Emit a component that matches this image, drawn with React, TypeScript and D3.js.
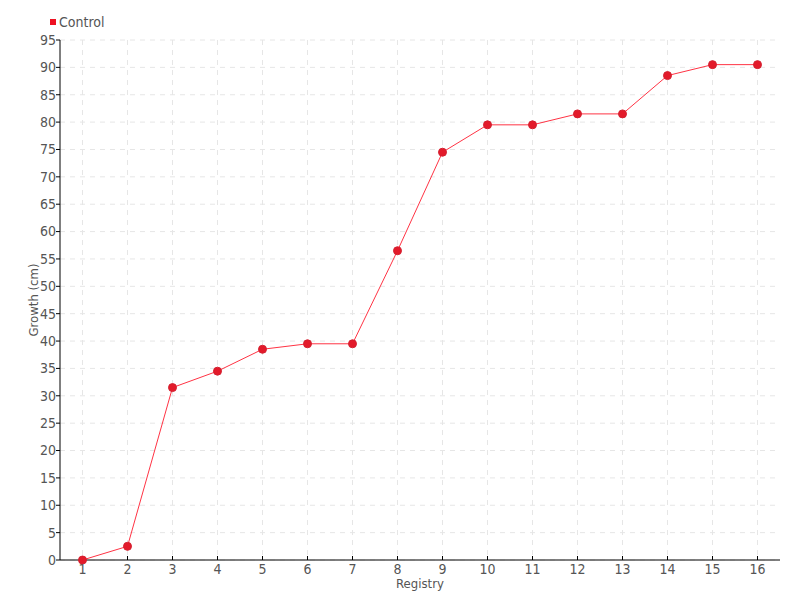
import React from 'react';
import * as d3 from 'd3';

const registry = [1, 2, 3, 4, 5, 6, 7, 8, 9, 10, 11, 12, 13, 14, 15, 16];
const growth = [0, 2.5, 31.5, 34.5, 38.5, 39.5, 39.5, 56.5, 74.5, 79.5, 79.5, 81.5, 81.5, 88.5, 90.5, 90.5];
const yTicks = d3.range(0, 96, 5);
const seriesName = 'Control';

const width = 800;
const height = 600;
const margin = { top: 40, right: 20, bottom: 40, left: 60 };
const font = "'Liberation Sans Narrow', 'DejaVu Sans Condensed', 'Roboto', sans-serif";

const App = () => {
  const x = d3.scaleLinear().domain([0.5, 16.5]).range([margin.left, width - margin.right]);
  const y = d3.scaleLinear().domain([0, 95]).range([height - margin.bottom, margin.top]);

  const points = registry.map((r, i) => ({ r, v: growth[i] }));
  const line = d3.line<{ r: number; v: number }>().x(d => x(d.r)).y(d => y(d.v));

  const x0 = margin.left;
  const x1 = width - margin.right;
  const y0 = height - margin.bottom;
  const y1 = margin.top;

  return (
    <svg width={width} height={height} style={{ position: 'absolute', left: 0, top: 0, background: '#fff' }}>
      {/* grid */}
      <g stroke="#e6e6e6" strokeDasharray="5,5" strokeWidth={1}>
        {yTicks.map(t => (
          <line key={'gy' + t} x1={x0} x2={x1} y1={y(t)} y2={y(t)} />
        ))}
        {registry.map(r => (
          <line key={'gx' + r} x1={x(r)} x2={x(r)} y1={y1} y2={y0} />
        ))}
      </g>

      {/* axes */}
      <g stroke="#000" strokeWidth={1}>
        <line x1={x0} x2={x0} y1={y1} y2={y0} />
        <line x1={x0} x2={x1} y1={y0} y2={y0} />
        {yTicks.map(t => (
          <line key={'ty' + t} x1={x0 - 4} x2={x0} y1={y(t)} y2={y(t)} />
        ))}
        {registry.map(r => (
          <line key={'tx' + r} x1={x(r)} x2={x(r)} y1={y0} y2={y0 - 4} />
        ))}
      </g>
      <g fill="#555" fontFamily={font} fontSize={14}>
        {yTicks.map(t => (
          <text key={'ly' + t} x={x0 - 4} y={y(t)} dy="0.35em" textAnchor="end">{t}</text>
        ))}
        {registry.map(r => (
          <text key={'lx' + r} x={x(r)} y={y0 + 14} textAnchor="middle">{r}</text>
        ))}
        <text x={(x0 + x1) / 2} y={588} textAnchor="middle" fontSize={13}>Registry</text>
        <text transform={`translate(38, ${(y0 + y1) / 2}) rotate(-90)`} textAnchor="middle" fontSize={13}>Growth (cm)</text>
      </g>

      {/* series */}
      <path d={line(points) || ''} fill="none" stroke="#ff3344" strokeWidth={1} />
      <g fill="#e31a2a" stroke="#d42030" strokeWidth={1}>
        {points.map(p => (
          <circle key={p.r} cx={x(p.r)} cy={y(p.v)} r={4} />
        ))}
      </g>

      {/* legend */}
      <rect x={50} y={19} width={6} height={6} fill="#ee1122" />
      <text x={59} y={27} fill="#555" fontFamily={font} fontSize={14}>{seriesName}</text>
    </svg>
  );
};

export default App;
